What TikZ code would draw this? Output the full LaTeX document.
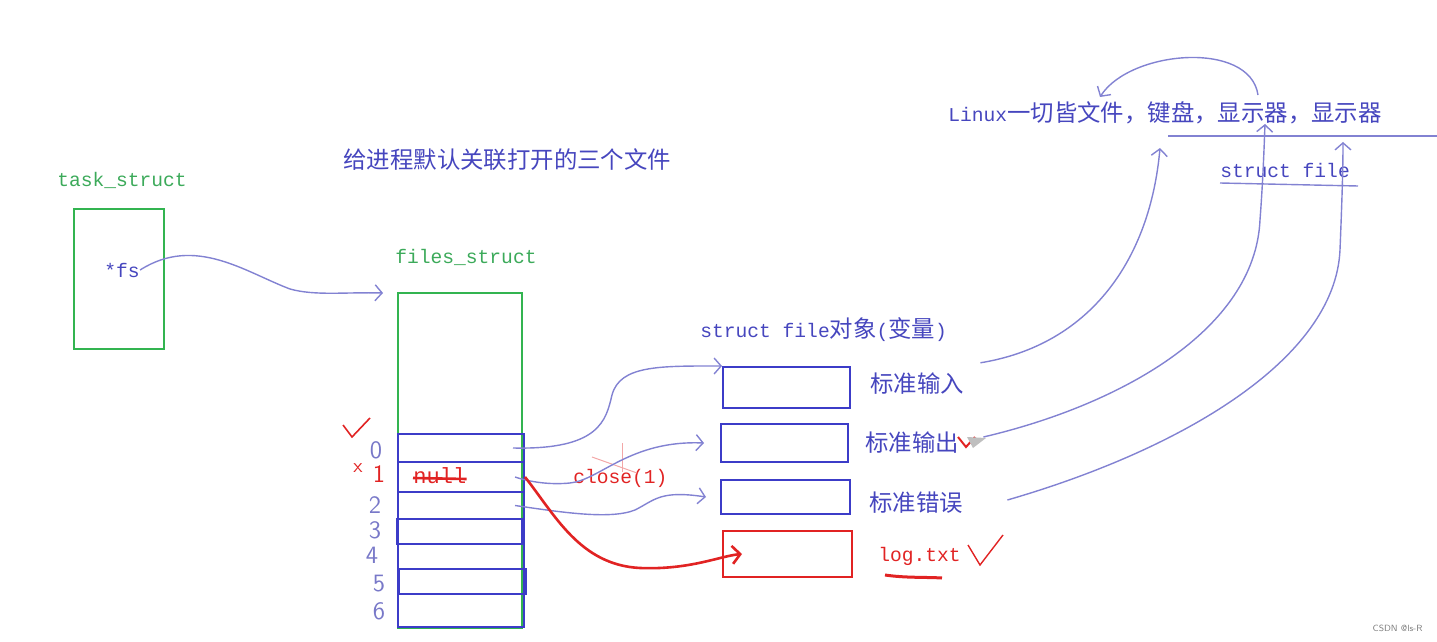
\documentclass[tikz,border=0pt]{standalone}
\usepackage{fontspec}
\setmonofont{Liberation Mono}
\newfontfamily\zhfont{Noto Sans CJK SC}
\usetikzlibrary{arrows.meta}

\definecolor{txtblue}{RGB}{70,70,190}
\definecolor{boxblue}{RGB}{60,60,200}
\definecolor{boxgreen}{RGB}{50,180,80}
\definecolor{txtgreen}{RGB}{60,170,90}
\definecolor{pen}{RGB}{130,130,210}
\definecolor{penred}{RGB}{225,35,35}
\definecolor{digit}{RGB}{120,120,200}

\newcommand{\en}[1]{{\fontsize{9.8}{12}\ttfamily #1}}

\begin{document}
\begin{tikzpicture}[x=0.5pt,y=-0.5pt,
  lat/.style={font=\fontsize{9.8}{12}\ttfamily, inner sep=0, anchor=west},
  zhtxt/.style={font=\fontsize{11.7}{14}\zhfont, inner sep=0, anchor=west},
  gbox/.style={draw=boxgreen, line width=1pt, inner sep=0, anchor=north west},
  bbox/.style={draw=boxblue, line width=1pt, inner sep=0, anchor=north west},
  rbox/.style={draw=penred, line width=1pt, inner sep=0, anchor=north west},
  link/.style={pen, line width=0.7pt, -{Straight Barb[length=3.5pt,width=8pt]}},
  redlink/.style={penred, line width=1.3pt, -{Straight Barb[length=4pt,width=9pt]}},
  num/.style={digit, font=\fontsize{12.5}{12.5}\sffamily, inner sep=0}]

\useasboundingbox (0,0) rectangle (1437,642);

\node[lat, txtgreen] (tasklbl) at (57,180) {task\_struct};
\node[gbox, minimum width=45pt, minimum height=70pt] (task) at (73,208) {};
\node[lat, txtblue] (fs) at (104,270) {*fs};

\node[zhtxt, txtblue] (title) at (343,160) {给进程默认关联打开的三个文件};

\node[lat, txtgreen] (fileslbl) at (395,257) {files\_struct};
\node[gbox, minimum width=62pt, minimum height=167.5pt] (files) at (397,292) {};
\node[bbox, minimum width=63pt, minimum height=96.5pt] (fdt) at (397,433) {};
\node[bbox, minimum width=63pt, minimum height=14pt] (fd0) at (397,433) {};
\node[bbox, minimum width=63pt, minimum height=15pt] (fd1) at (397,461) {};
\node[bbox, minimum width=63pt, minimum height=13.5pt] (fd2) at (397,491) {};
\node[bbox, minimum width=62.5pt, minimum height=12.5pt] (fd3) at (396,518) {};
\node[bbox, minimum width=63.5pt, minimum height=12.5pt] (fd5) at (398,568) {};

\node[num] (n0) at (376,450) {0};
\node[num, penred] (n1) at (379,474) {1};
\node[num] (n2) at (375,505) {2};
\node[num] (n3) at (375,530) {3};
\node[num] (n4) at (372,555) {4};
\node[num] (n5) at (379,584) {5};
\node[num] (n6) at (379,611) {6};
\node[penred, font=\fontsize{10}{10}\sffamily, inner sep=0] (xmark) at (358,468) {x};
\draw[penred, line width=0.8pt] (343,425) -- (352,437) -- (370,418);

\node[lat, penred, font=\fontsize{11}{12}\ttfamily] (null) at (413,476) {null};
\draw[penred, line width=1.3pt] ([yshift=-1pt]null.west) -- ([yshift=-1.5pt]null.east);
\node[lat, penred] (close) at (573,478) {close(1)};
\draw[penred!40, line width=0.5pt] (592,457) -- (637,473);
\draw[penred!40, line width=0.5pt] (622,443) -- (622,472);

\node[zhtxt, txtblue] (objlbl) at (700,330) {\en{struct file}对象\en{(}变量\en{)}};
\node[bbox, minimum width=63.5pt, minimum height=20.5pt] (stdin) at (722,366) {};
\node[bbox, minimum width=63.5pt, minimum height=19pt] (stdout) at (720,423) {};
\node[bbox, minimum width=64.5pt, minimum height=17pt] (stderr) at (720,479) {};
\node[rbox, minimum width=64.5pt, minimum height=23pt] (logf) at (722,530) {};

\node[zhtxt, txtblue] (inlbl) at (870,384) {标准输入};
\node[zhtxt, txtblue] (outlbl) at (865,443) {标准输出};
\node[zhtxt, txtblue] (errlbl) at (869,503) {标准错误};
\node[lat, penred] (loglbl) at (878,556) {log.txt};
\draw[penred, line width=1pt] (958,437) -- (966,447) -- (975,437);
\fill[gray!50] (967,437) -- (986,438) -- (973,448) -- cycle;
\draw[penred, line width=1.5pt] (885,575) .. controls (905,578) and (925,577) .. (942,578);
\draw[penred, line width=0.7pt] (968,545) -- (980,565) -- (1003,535);

\node[zhtxt, txtblue] (allfile) at (948,113) {\en{Linux}一切皆文件，键盘，显示器，显示器};
\node[lat, txtblue] (sfile) at (1220,170) {struct file};
\draw[pen, line width=0.7pt] (1168,136) -- (1437,136);
\draw[pen, line width=0.7pt] (1220,183) -- (1358,186);

\coordinate (fsend) at (383,293);
\coordinate (c1) at (1160,148);
\coordinate (c2) at (1265,124);
\coordinate (c3) at (1343,142);
\coordinate (arcstart) at (1258,95);
\coordinate (c4) at (1100,97);

\draw[link] (fs.east) .. controls (195,235) and (245,272) .. (290,289) .. controls (315,296) and (345,292) .. (fsend);
\draw[link] ([xshift=-6pt]fd0.east) .. controls (600,450) and (606,420) .. (612,395) .. controls (620,365) and (660,366) .. (stdin.north west);
\draw[link] ([xshift=-5pt]fd1.east) .. controls (530,482) and (550,485) .. (570,483) .. controls (600,480) and (630,440) .. ([xshift=-8pt]stdout.west);
\draw[link] ([xshift=-5pt]fd2.east) .. controls (560,512) and (610,520) .. (635,510) .. controls (655,500) and (660,490) .. ([xshift=-7pt]stderr.west);
\draw[redlink] (fd1.east) .. controls (555,515) and (580,565) .. (640,568) .. controls (690,570) and (720,556) .. ([xshift=10pt]logf.west);

\draw[link] ([shift={(8pt,5pt)}]inlbl.north east) .. controls (1090,345) and (1150,260) .. (c1);
\draw[link] ([shift={(12pt,3pt)}]outlbl.east) .. controls (1120,405) and (1255,330) .. (1260,220) .. controls (1263,180) and (1264,150) .. (c2);
\draw[link] ([shift={(22pt,1.5pt)}]errlbl.east) .. controls (1180,450) and (1335,360) .. (1340,250) .. controls (1342,200) and (1343,170) .. (c3);
\draw[link] (arcstart) .. controls (1250,40) and (1130,50) .. (c4);

\node[gray, font=\fontsize{4.5}{5}\sffamily, inner sep=0, anchor=east] (csdn) at (1423,628) {CSDN @ls-R};

\end{tikzpicture}
\end{document}
